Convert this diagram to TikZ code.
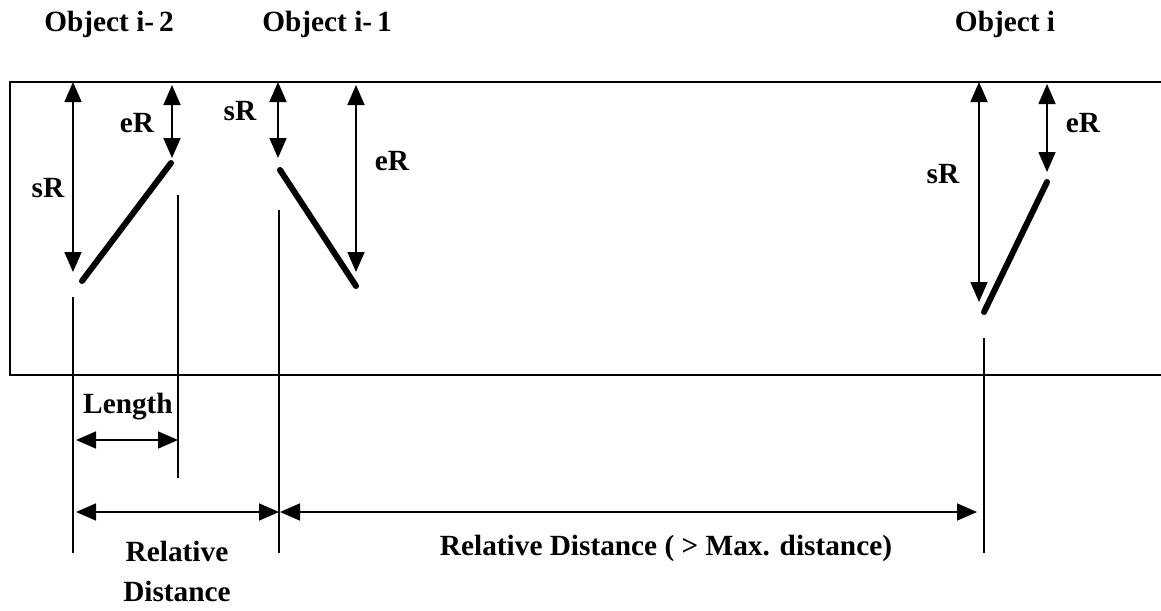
\documentclass[tikz,border=0pt]{standalone}
\usepackage{fontspec}
\setmainfont{Liberation Serif}
\usetikzlibrary{arrows.meta}
\begin{document}
\begin{tikzpicture}[x=1pt,y=-1pt,
  lbl/.style={font=\fontsize{29.3}{32}\selectfont\bfseries, inner sep=0pt, anchor=base},
  dimarrow/.style={line width=1.7pt, {Triangle[length=20pt,width=17pt]}-{Triangle[length=20pt,width=17pt]}},
  seg/.style={line width=6pt, line cap=round},
  guide/.style={line width=1.7pt},
  frame/.style={line width=1.7pt}]
\useasboundingbox (0,0) rectangle (1161,610);
% frame
\coordinate (ftr) at (1161,82);
\coordinate (ftl) at (10,82);
\coordinate (fbl) at (10,375);
\coordinate (fbr) at (1161,375);
\draw[frame] (ftr) -- (ftl) -- (fbl) -- (fbr);
% titles
\node[lbl] (t2) at (109,32) {Object i-\,2};
\node[lbl] (t1) at (327,32) {Object i-\,1};
\node[lbl] (t0) at (1005,32) {Object i};
% ---- Object i-2
\coordinate (a2s1) at (73,82);  \coordinate (a2s2) at (73,272);
\coordinate (a2e1) at (172,85); \coordinate (a2e2) at (172,158);
\coordinate (s2a) at (82,281);  \coordinate (s2b) at (171,163);
\coordinate (g2a1) at (73,297); \coordinate (g2a2) at (73,553);
\coordinate (g2b1) at (178,195);\coordinate (g2b2) at (178,478);
\draw[dimarrow] (a2s1) -- (a2s2);
\draw[dimarrow] (a2e1) -- (a2e2);
\draw[seg] (s2a) -- (s2b);
\draw[guide] (g2a1) -- (g2a2);
\draw[guide] (g2b1) -- (g2b2);
\node[lbl] (l2s) at (48,197) {sR};
\node[lbl] (l2e) at (137,132) {eR};
% ---- Object i-1
\coordinate (a1s1) at (278,82);  \coordinate (a1s2) at (278,158);
\coordinate (a1e1) at (356,85);  \coordinate (a1e2) at (356,272);
\coordinate (s1a) at (280,170);  \coordinate (s1b) at (356,286);
\coordinate (g1a1) at (279,210); \coordinate (g1a2) at (279,553);
\draw[dimarrow] (a1s1) -- (a1s2);
\draw[dimarrow] (a1e1) -- (a1e2);
\draw[seg] (s1a) -- (s1b);
\draw[guide] (g1a1) -- (g1a2);
\node[lbl] (l1s) at (240,120) {sR};
\node[lbl] (l1e) at (392,170) {eR};
% ---- Object i
\coordinate (a0s1) at (979,82);  \coordinate (a0s2) at (979,302);
\coordinate (a0e1) at (1047,84); \coordinate (a0e2) at (1047,172);
\coordinate (s0a) at (984,312);  \coordinate (s0b) at (1047,182);
\coordinate (g0a1) at (984,338); \coordinate (g0a2) at (984,553);
\draw[dimarrow] (a0s1) -- (a0s2);
\draw[dimarrow] (a0e1) -- (a0e2);
\draw[seg] (s0a) -- (s0b);
\draw[guide] (g0a1) -- (g0a2);
\node[lbl] (l0s) at (943,183) {sR};
\node[lbl] (l0e) at (1083,132) {eR};
% ---- dimensions
\coordinate (len1) at (76,440); \coordinate (len2) at (178,440);
\coordinate (rd1) at (76,512);  \coordinate (rd2) at (279,512);
\coordinate (rd3) at (280,512); \coordinate (rd4) at (977,512);
\draw[dimarrow] (len1) -- (len2);
\draw[dimarrow] (rd1) -- (rd2);
\draw[dimarrow] (rd3) -- (rd4);
\node[lbl] (llen) at (128,413) {Length};
\node[lbl] (lrel) at (177,561) {Relative};
\node[lbl] (ldis) at (177,601) {Distance};
\node[lbl] (lrd) at (666,555) {Relative Distance ( > Max. distance)};
\end{tikzpicture}
\end{document}
